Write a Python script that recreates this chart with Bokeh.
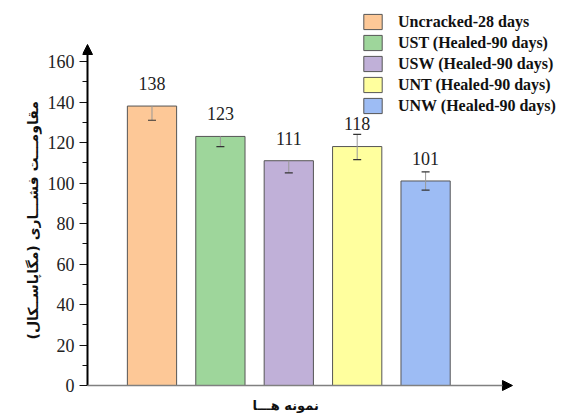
from bokeh.plotting import figure
from bokeh.models import (Range1d, FixedTicker, Arrow, NormalHead, Legend,
                          LegendItem, ColumnDataSource, Title)
from bokeh.embed import file_html
from bokeh.resources import INLINE

# ---- data ----
categories = ["Uncracked-28 days", "UST (Healed-90 days)", "USW (Healed-90 days)",
              "UNT (Healed-90 days)", "UNW (Healed-90 days)"]
values = [138, 123, 111, 118, 101]
err_low = [7, 5, 6, 6.5, 4.5]
err_high = [0, 0, 0, 6, 4.5]
colors = ["#FDC897", "#9ED69B", "#C0B0D8", "#FFFF9E", "#9DBCF4"]
y_ticks = [0, 20, 40, 60, 80, 100, 120, 140, 160]
y_minor = [10, 30, 50, 70, 90, 110, 130, 150]
y_title = "مقاومـــت فشـــاری (مگاپاســکال)"
x_title = "نمونه هـــا"

PXX = 68.4    # px per category unit
PXY = 2.025   # px per MPa
xs = list(range(1, len(values) + 1))
X0 = -0.016
XL = X0 + 5 / PXX          # axis line position
Y0 = -6 / PXY

src = ColumnDataSource(dict(
    x=xs, top=values, color=colors,
    lo=[v - e for v, e in zip(values, err_low)],
    hi=[v + e for v, e in zip(values, err_high)],
    lab=[str(v) for v in values],
    laby=[v + 8 for v in values],
))

W, H, BB = 566, 417, 26
p = figure(width=W, height=H, output_backend="svg", toolbar_location=None,
           x_range=Range1d(X0, X0 + (W - 82) / PXX),
           y_range=Range1d(Y0, Y0 + (H - BB) / PXY),
           min_border_left=82, min_border_right=0, min_border_top=0,
           min_border_bottom=BB)
p.outline_line_color = None
p.grid.visible = False
p.xaxis.visible = False

yax = p.yaxis[0]
yax.ticker = FixedTicker(ticks=y_ticks, minor_ticks=y_minor)
yax.axis_line_color = None
yax.major_tick_out = 3
yax.major_tick_in = 5
yax.minor_tick_out = 0
yax.minor_tick_in = 5
yax.major_tick_line_color = "#111111"
yax.minor_tick_line_color = "#111111"
yax.major_label_text_font = "Liberation Serif"
yax.major_label_text_font_size = "18px"
yax.major_label_text_color = "#222222"
yax.major_label_standoff = 5

bars = p.vbar(x="x", top="top", width=0.72, fill_color="color", line_color="#555555",
              line_width=1, source=src)

# error bars
p.segment(x0="x", y0="lo", x1="x", y1="hi", line_color="#999999", line_width=1, source=src)
p.scatter(x="x", y="lo", marker="dash", size=8, line_color="#333333", line_width=1.2, source=src)
hx = [x for x, e in zip(xs, err_high) if e > 0]
hy = [v + e for v, e in zip(values, err_high) if e > 0]
p.scatter(x=hx, y=hy, marker="dash", size=8, line_color="#333333", line_width=1.2)

p.text(x="x", y="laby", text="lab", source=src, text_align="center",
       text_baseline="bottom", text_font_size="18px", text_color="#222222",
       text_font={"value": "Liberation Serif"})

# axes with arrows
p.add_layout(Arrow(end=NormalHead(size=10, fill_color="black", line_color="black"),
                   x_start=XL, y_start=0, x_end=XL, y_end=168.4,
                   line_color="black", line_width=2))
p.add_layout(Arrow(end=NormalHead(size=10, fill_color="black", line_color="black"),
                   x_start=XL, y_start=0, x_end=6.27, y_end=0,
                   line_color="#808080", line_width=1.5))

p.add_layout(Title(text=y_title, align="left", offset=52, standoff=8,
                   text_font="DejaVu Sans", text_font_style="bold",
                   text_font_size="14px", text_color="#111111"), "left")
p.add_layout(Title(text=x_title, align="left", offset=170, standoff=8,
                   text_font="DejaVu Sans", text_font_style="bold",
                   text_font_size="13px", text_color="#111111"), "below")

items = [LegendItem(label=c, renderers=[bars], index=i) for i, c in enumerate(categories)]
leg = Legend(items=items, location=(279, 276), padding=0, margin=0, spacing=2,
             glyph_width=23, glyph_height=19, label_height=19, label_standoff=14,
             label_text_font="Liberation Serif", label_text_font_style="bold",
             label_text_font_size="16px", label_text_color="#111111",
             border_line_color=None, background_fill_alpha=0)
p.add_layout(leg, "center")

open("out.html", "w").write(file_html(p, INLINE))
